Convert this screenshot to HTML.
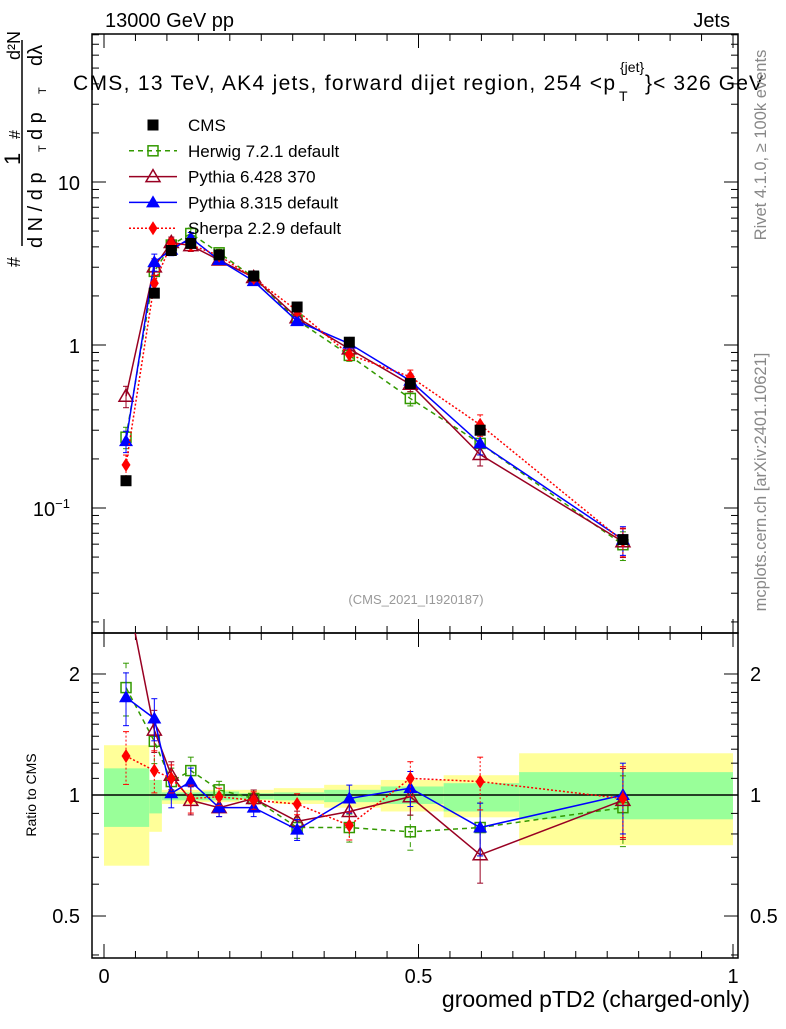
<!DOCTYPE html>
<html><head><meta charset="utf-8"><style>
body{margin:0;background:#fff}
svg{font-family:"Liberation Sans",sans-serif}
</style></head><body>
<svg id="c" width="786" height="1024" xmlns="http://www.w3.org/2000/svg"></svg>
<script>
const xs=[0.035,0.08,0.107,0.138,0.183,0.238,0.307,0.39,0.487,0.598,0.825];
const cms=[0.147,2.08,3.8,4.2,3.57,2.65,1.71,1.04,0.58,0.30,0.064];
const herwig=[1.85,1.36,1.08,1.15,1.03,0.98,0.83,0.83,0.81,0.83,0.93];
const py6=[3.3,1.45,1.12,0.97,0.93,0.98,0.86,0.91,0.99,0.71,0.97];
const py8=[1.75,1.55,1.01,1.08,0.93,0.93,0.82,0.98,1.04,0.83,1.0];
const sherpa=[1.25,1.15,1.10,0.98,0.99,0.97,0.95,0.84,1.1,1.08,0.98];
const binEdges=[0,0.072,0.092,0.155,0.215,0.27,0.35,0.44,0.54,0.66,1.0];
const yelHi=[1.33,1.09,1.03,1.03,1.03,1.04,1.06,1.09,1.12,1.27];
const yelLo=[0.667,0.81,0.95,0.96,0.97,0.95,0.93,0.91,0.88,0.75];
const grnHi=[1.165,1.09,1.015,1.02,1.01,1.015,1.03,1.05,1.07,1.14];
const grnLo=[0.833,0.90,0.97,0.97,0.975,0.97,0.96,0.95,0.91,0.87];
const relErr=[0.15,0.12,0.08,0.08,0.05,0.05,0.06,0.08,0.1,0.15,0.2];

const S=document.getElementById('c'),NS='http://www.w3.org/2000/svg';
const L=92,R=738,T=34,M=633,B=958;
const X=v=>104+629*v;
const Y=v=>345-163*Math.log10(v);
const YR=r=>795-402*Math.log10(r);
function el(t,a,p){const e=document.createElementNS(NS,t);for(const k in a)e.setAttribute(k,a[k]);(p||S).appendChild(e);return e;}
function txt(s,x,y,sz,anc,extra){const e=el('text',Object.assign({x:x,y:y,'font-size':sz,'text-anchor':anc||'start'},extra||{}));e.textContent=s;return e;}

const defs=el('defs',{});
const c1=el('clipPath',{id:'cm'},defs);el('rect',{x:L,y:T,width:R-L,height:M-T},c1);
const c2=el('clipPath',{id:'cr'},defs);el('rect',{x:L,y:M,width:R-L,height:B-M},c2);

const gb=el('g',{'clip-path':'url(#cr)'});


for(let i=0;i<yelHi.length;i++){
  const x0=X(binEdges[i]),x1=X(binEdges[i+1]);
  el('rect',{x:x0,y:YR(yelHi[i]),width:x1-x0,height:YR(yelLo[i])-YR(yelHi[i]),fill:'#ffff99'},gb);
  el('rect',{x:x0,y:YR(grnHi[i]),width:x1-x0,height:YR(grnLo[i])-YR(grnHi[i]),fill:'#99ff99'},gb);
}
el('line',{x1:L,x2:R,y1:YR(1),y2:YR(1),stroke:'#000','stroke-width':1.5});

el('rect',{x:L,y:T,width:R-L,height:M-T,fill:'none',stroke:'#000','stroke-width':1.5});
el('rect',{x:L,y:M,width:R-L,height:B-M,fill:'none',stroke:'#000','stroke-width':1.5});

for(let i=0;i<=20;i++){const v=i*0.05,x=X(v),len=(i%10==0)?14:7;
 [T,M].forEach(y0=>el('line',{x1:x,x2:x,y1:y0,y2:y0+len,stroke:'#000'}));
 [M,B].forEach(y0=>el('line',{x1:x,x2:x,y1:y0,y2:y0-len,stroke:'#000'}));}
const xt=[['0',0],['0.5',0.5],['1',1]];
xt.forEach(t=>{const e=txt(t[0],X(t[1]),983,20,'middle');});
for(let d=-2;d<=1;d++)for(let k=1;k<=9;k++){const v=k*Math.pow(10,d);const y=Y(v);if(y<T||y>M)continue;const len=k==1?14:7;
 el('line',{x1:L,x2:L+len,y1:y,y2:y,stroke:'#000'});el('line',{x1:R,x2:R-len,y1:y,y2:y,stroke:'#000'});}
txt('10',80,190,20,'end');txt('1',80,353,20,'end');
const t01=txt('10',70,516,20,'end');const ts=el('tspan',{dy:-8,'font-size':13});ts.textContent='−1';t01.appendChild(ts);
[0.4,0.5,0.6,0.7,0.8,0.9,1,1.1,1.2,1.3,1.4,1.5,1.6,1.7,1.8,1.9,2].forEach(r=>{const y=YR(r);const len=(r==0.5||r==1||r==2)?14:7;
 el('line',{x1:L,x2:L+len,y1:y,y2:y,stroke:'#000'});el('line',{x1:R,x2:R-len,y1:y,y2:y,stroke:'#000'});});
[['2',2],['1',1],['0.5',0.5]].forEach(t=>{txt(t[0],80,YR(t[1])+7,20,'end');txt(t[0],750,YR(t[1])+7,20,'start');});

const series=[
 {n:'herwig',d:herwig,c:'#339900',dash:'5,4',m:'osq'},
 {n:'pythia6',d:py6,c:'#990022',dash:'',m:'otri'},
 {n:'pythia8',d:py8,c:'#0000ff',dash:'',m:'tri'},
 {n:'sherpa',d:sherpa,c:'#ff0000',dash:'2,2',m:'dia'}];
function marker(g,m,x,y,c){
 if(m=='sq')el('rect',{x:x-5.5,y:y-5.5,width:11,height:11,fill:'#000'},g);
 if(m=='osq')el('rect',{x:x-5,y:y-5,width:10,height:10,fill:'none',stroke:c,'stroke-width':1.5},g);
 if(m=='otri')el('path',{d:`M${x},${y-7}L${x+7},${y+5}L${x-7},${y+5}Z`,fill:'none',stroke:c,'stroke-width':1.5},g);
 if(m=='tri')el('path',{d:`M${x},${y-7}L${x+7},${y+5}L${x-7},${y+5}Z`,fill:c},g);
 if(m=='dia')el('path',{d:`M${x},${y-7}L${x+4.5},${y}L${x},${y+7}L${x-4.5},${y}Z`,fill:c},g);
}
function draw(panel,yf,vals,s,clip){
 const g=el('g',{'clip-path':clip});
 
 
 const pts=vals.map((v,i)=>[X(xs[i]),yf(v)]);
 el('polyline',{points:pts.map(p=>p.join(',')).join(' '),fill:'none',stroke:s.c,'stroke-width':1.5,'stroke-dasharray':s.dash},g);
 vals.forEach((v,i)=>{const e=relErr[i];const y1=yf(v*(1+e)),y2=yf(v*(1-e));const x=X(xs[i]);
  el('line',{x1:x,x2:x,y1:y1,y2:y2,stroke:s.c,'stroke-dasharray':s.dash},g);
  el('line',{x1:x-3,x2:x+3,y1:y1,y2:y1,stroke:s.c},g);el('line',{x1:x-3,x2:x+3,y1:y2,y2:y2,stroke:s.c},g);
  marker(g,s.m,x,yf(v),s.c);});
}
series.forEach(s=>{draw('main',Y,s.d.map((r,i)=>r*cms[i]),s,'url(#cm)');draw('ratio',YR,s.d,s,'url(#cr)');});
const gc=el('g',{'clip-path':'url(#cm)'});


cms.forEach((v,i)=>marker(gc,'sq',X(xs[i]),Y(v),'#000'));

const leg=[['CMS','#000','','sq'],['Herwig 7.2.1 default','#339900','5,4','osq'],['Pythia 6.428 370','#990022','','otri'],['Pythia 8.315 default','#0000ff','','tri'],['Sherpa 2.2.9 default','#ff0000','2,2','dia']];
leg.forEach((l,i)=>{const y=125+25.8*i;const g=el('g',{});
 
 
 if(i>0)el('line',{x1:129,x2:177,y1:y,y2:y,stroke:l[1],'stroke-width':1.5,'stroke-dasharray':l[2]},g);
 marker(g,l[3],153,y,l[1]);
 const t=el('text',{x:188,y:y+6,'font-size':17},g);t.textContent=l[0];});

txt('13000 GeV pp',105,27,20);txt('Jets',730,27,20,'end');
const title=el('g',{});


const tt1=el('text',{x:73,y:90,'font-size':21,textLength:542,lengthAdjust:'spacing'},title);tt1.textContent='CMS, 13 TeV, AK4 jets, forward dijet region, 254 <p';
const tt2=el('text',{x:619,y:101,'font-size':14},title);tt2.textContent='T';
const tt3=el('text',{x:620,y:72,'font-size':14},title);tt3.textContent='{jet}';
const tt4=el('text',{x:645,y:90,'font-size':21,textLength:118,lengthAdjust:'spacing'},title);tt4.textContent='}< 326 GeV';
txt('(CMS_2021_I1920187)',416,604,13,'middle',{fill:'#999'});
txt('groomed pTD2 (charged-only)',750,1007,23,'end');
txt('Ratio to CMS',36,795,14,'middle',{transform:'rotate(-90 36 795)'});
txt('Rivet 4.1.0, ≥ 100k events',766,145,16.5,'middle',{fill:'#888',transform:'rotate(-90 766 145)'});
txt('mcplots.cern.ch [arXiv:2401.10621]',766,482,16.5,'middle',{fill:'#888',transform:'rotate(-90 766 482)'});

const yt=el('g',{});


el('line',{x1:22,x2:22,y1:40,y2:246,stroke:'#000','stroke-width':1.5},yt);
function rt(s,x,y,sz){const e=el('text',{x:x,y:y,'font-size':sz,transform:`rotate(-90 ${x} ${y})`},yt);e.textContent=s;}
rt('#',20,267,18);rt('1',20,165,22);rt('#',20,139,16);rt('d²N',20,60,18);
rt('d N / d p',42,248,20);rt('T',46,152,11);
rt('d p',42,140,20);rt('T',46,94,11);
rt('dλ',42,66,20);
</script>
</body></html>
